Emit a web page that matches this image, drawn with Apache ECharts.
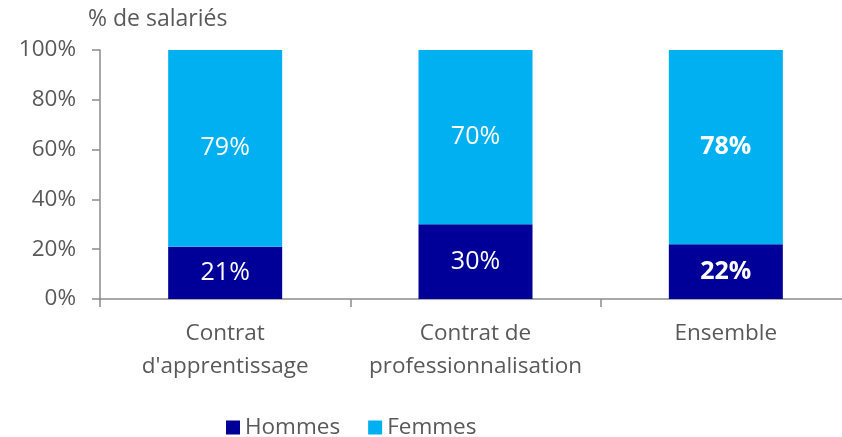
<!DOCTYPE html>
<html><head><meta charset="utf-8">
<script src="https://cdn.jsdelivr.net/npm/echarts@6/dist/echarts.min.js"></script>
<style>html,body{margin:0;padding:0;background:#fff;overflow:hidden}#c{width:862px;height:437px}</style>
</head><body><div id="c"></div>
<script>
const categories = ["Contrat\nd'apprentissage", "Contrat de\nprofessionnalisation", "Ensemble"];
const hommes = [21, 30, 22];
const femmes = [79, 70, 78];
const yTicks = [0, 20, 40, 60, 80, 100];
const FONT = 'Open Sans';
const chart = echarts.init(document.getElementById('c'));
function lbl(i){ return i === 2; }
chart.setOption({
  animation: false,
  textStyle: { fontFamily: FONT },
  grid: { left: 100, width: 751, top: 50, bottom: 138 },
  legend: {
    top: 416, left: 226, padding: 0, itemWidth: 14, itemHeight: 14, itemGap: 28,
    icon: 'rect',
    textStyle: { fontFamily: FONT, fontSize: 22.5, color: '#595959', padding: [0,0,0,0] },
    data: ['Hommes', 'Femmes']
  },
  xAxis: {
    type: 'category', data: categories,
    axisLine: { lineStyle: { color: '#8c8c8c', width: 1.5 } },
    axisTick: { show: true, interval: 0, length: 8, lineStyle: { color: '#8c8c8c', width: 1.5 } },
    axisLabel: { interval: 0, hideOverlap: false, fontFamily: FONT, fontSize: 22.5, color: '#595959', lineHeight: 33, margin: 18 }
  },
  yAxis: {
    type: 'value', min: 0, max: 100, interval: 20,
    name: '% de salariés', nameLocation: 'end', nameGap: 19,
    nameTextStyle: { fontFamily: FONT, fontSize: 23, color: '#595959', align: 'left', padding: [0,0,0,-12] },
    axisLine: { show: true, lineStyle: { color: '#8c8c8c', width: 1.5 } },
    axisTick: { show: true, length: 8, lineStyle: { color: '#8c8c8c', width: 1.5 } },
    splitLine: { show: false },
    axisLabel: { fontFamily: FONT, fontSize: 22.5, color: '#595959', margin: 24, formatter: v => v + '%' }
  },
  series: [
    { name: 'Hommes', type: 'bar', stack: 's', barWidth: 114, itemStyle: { color: '#000099' },
      data: hommes.map((v,i) => ({ value: v, label: { fontWeight: lbl(i) ? 'bold' : 'normal' } })),
      label: { show: true, position: 'inside', color: '#fff', fontFamily: FONT, fontSize: 25, formatter: p => p.value + '%' } },
    { name: 'Femmes', type: 'bar', stack: 's', barWidth: 114, itemStyle: { color: '#00B0F0' },
      data: femmes.map((v,i) => ({ value: v, label: { fontWeight: lbl(i) ? 'bold' : 'normal' } })),
      label: { show: true, position: 'inside', color: '#fff', fontFamily: FONT, fontSize: 25, formatter: p => p.value + '%' } }
  ]
});
</script></body></html>
